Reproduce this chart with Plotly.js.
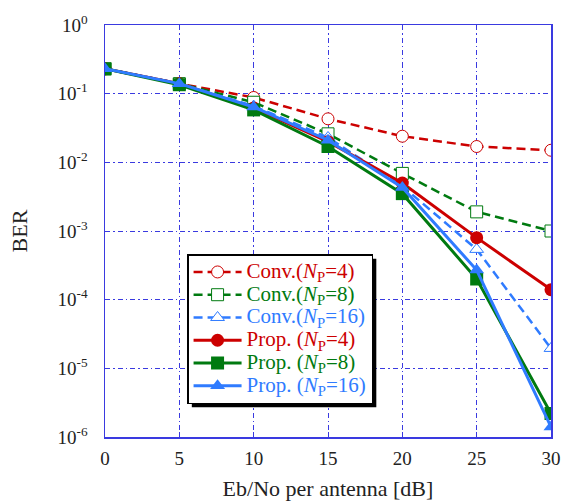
<!DOCTYPE html>
<html><head><meta charset="utf-8">
<script src="https://cdn.plot.ly/plotly-3.0.1.min.js"></script>
<style>body{margin:0;background:#fff}#c{width:563px;height:501px}</style>
</head><body><div id="c"></div>
<script>
const snr = [0, 5, 10, 15, 20, 25, 30];
const convNp4  = [0.23, 0.14, 0.088, 0.043, 0.024, 0.017, 0.015];
const convNp8  = [0.23, 0.14, 0.075, 0.026, 0.0069, 0.0019, 0.001];
const convNp16 = [0.23, 0.14, 0.066, 0.023, 0.0045, 0.00054, 0.0000195];
const propNp4  = [0.23, 0.14, 0.062, 0.020, 0.0050, 0.0008, 0.00014];
const propNp8  = [0.23, 0.135, 0.058, 0.017, 0.0035, 0.0002, 0.0000022];
const propNp16 = [0.23, 0.14, 0.064, 0.021, 0.0043, 0.00027, 0.0000014];
const yTickVals = [1, 0.1, 0.01, 0.001, 0.0001, 0.00001, 0.000001];
const yTickText = ['10<sup>0</sup>','10<sup>-1</sup>','10<sup>-2</sup>','10<sup>-3</sup>','10<sup>-4</sup>','10<sup>-5</sup>','10<sup>-6</sup>'];
const names = ['Conv.(<i>N</i><sub>P</sub>=4)','Conv.(<i>N</i><sub>P</sub>=8)','Conv.(<i>N</i><sub>P</sub>=16)',
               'Prop. (<i>N</i><sub>P</sub>=4)','Prop. (<i>N</i><sub>P</sub>=8)','Prop. (<i>N</i><sub>P</sub>=16)'];

const RED = '#cc0000', GREEN = '#007a10', BLUE = '#2f7bff';
function nm(i, c){ return '<span style="color:'+c+';font-size:21px">'+names[i]+'</span>'; }
const DASH = '9px,5px';

const traces = [
  {x: snr, y: convNp4, name: nm(0, RED), mode: 'lines+markers',
   line: {color: RED, width: 2.5, dash: DASH},
   marker: {symbol: 'circle', size: 12, color: 'white', line: {color: RED, width: 1}}},
  {x: snr, y: convNp8, name: nm(1, GREEN), mode: 'lines+markers',
   line: {color: GREEN, width: 2.5, dash: DASH},
   marker: {symbol: 'square', size: 12, color: 'white', line: {color: GREEN, width: 1}}},
  {x: snr, y: convNp16, name: nm(2, BLUE), mode: 'lines+markers',
   line: {color: BLUE, width: 2.5, dash: DASH},
   marker: {symbol: 'triangle-up', size: 12, color: 'white', line: {color: BLUE, width: 1}}},
  {x: snr, y: propNp4, name: nm(3, RED), mode: 'lines+markers',
   line: {color: RED, width: 3},
   marker: {symbol: 'circle', size: 13, color: RED}},
  {x: snr, y: propNp8, name: nm(4, GREEN), mode: 'lines+markers',
   line: {color: GREEN, width: 3},
   marker: {symbol: 'square', size: 13, color: GREEN}},
  {x: snr, y: propNp16, name: nm(5, BLUE), mode: 'lines+markers',
   line: {color: BLUE, width: 3},
   marker: {symbol: 'triangle-up', size: 13, color: BLUE}}
];

const axisCol = '#3a3ae0';
const GRIDDASH = '5px,3px,1.5px,3px';
const layout = {
  width: 563, height: 501,
  margin: {l: 105, r: 12, t: 25, b: 64},
  paper_bgcolor: 'white', plot_bgcolor: 'white',
  font: {family: 'Liberation Serif, Times New Roman, serif', size: 19, color: '#222'},
  showlegend: true,
  legend: {x: 0.184, y: 0.444, xanchor: 'left', yanchor: 'top',
           bgcolor: 'white', bordercolor: 'black', borderwidth: 1.5,
           font: {size: 15.2}, itemwidth: 48, tracegroupgap: 0},
  xaxis: {range: [0, 30], tickvals: snr, showline: true, mirror: true,
          linecolor: axisCol, linewidth: 1.5, showgrid: true, gridcolor: axisCol,
          griddash: GRIDDASH, gridwidth: 1, ticks: 'inside', ticklen: 5, tickcolor: axisCol,
          zeroline: false, ticklabelstandoff: 4,
          title: {text: 'Eb/No per antenna [dB]', font: {size: 22}, standoff: 18}},
  yaxis: {type: 'log', range: [-6, 0], tickvals: yTickVals, ticktext: yTickText,
          showline: true, mirror: true, linecolor: axisCol, linewidth: 1.5,
          showgrid: true, gridcolor: axisCol, griddash: GRIDDASH, gridwidth: 1,
          ticks: 'inside', ticklen: 5, tickcolor: axisCol, zeroline: false,
          ticklabelstandoff: 12,
          title: {text: 'BER', font: {size: 22}, standoff: 24}}
};
Plotly.newPlot('c', traces, layout, {displayModeBar: false, staticPlot: true}).then(function(gd){
  const bg = gd.querySelector('.legend .bg');
  if (!bg) return;
  const r = bg.getBoundingClientRect();
  const c = gd.getBoundingClientRect();
  const fl = gd._fullLayout, s = fl._size;
  const off = 4;
  const px0 = r.left - c.left + off, px1 = r.right - c.left + off;
  const py0 = r.top - c.top + off, py1 = r.bottom - c.top + off;
  const toX = p => (p - s.l) / s.w;
  const toY = p => 1 - (p - s.t) / s.h;
  Plotly.relayout(gd, {shapes: [{type: 'rect', xref: 'paper', yref: 'paper', layer: 'above',
    x0: toX(px0), x1: toX(px1), y0: toY(py1), y1: toY(py0),
    fillcolor: 'black', line: {width: 0}}]});
});
</script></body></html>
